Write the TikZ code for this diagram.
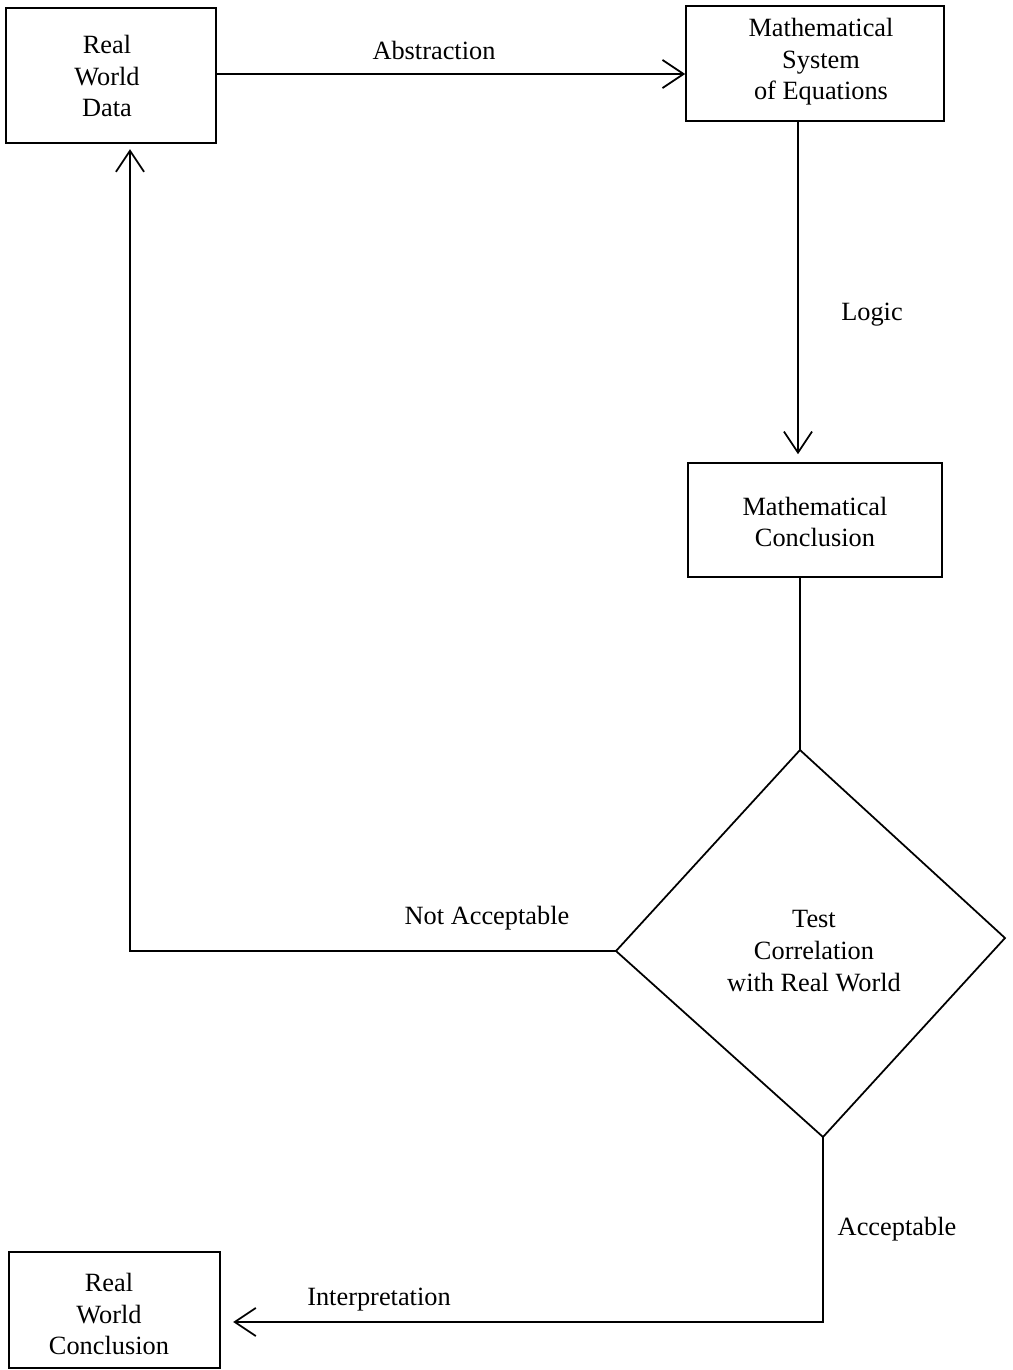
\documentclass[tikz,border=0pt]{standalone}
\usepackage{fontspec}
\setmainfont{Liberation Serif}
\usetikzlibrary{arrows.meta}
\begin{document}
\begin{tikzpicture}[x=0.02cm,y=-0.02cm,
  every node/.style={font=\fontsize{15}{18}\selectfont, align=center, inner sep=0pt},
  box/.style={draw, line width=1pt, inner sep=0pt},
  conn/.style={line width=1pt},
  arr/.style={conn, -{Straight Barb[length=12pt,width=16pt,line width=1pt]}},
  lbl/.style={}]
\useasboundingbox (0,0) rectangle (1012,1370);
% boxes
\node[box, minimum width=4.2cm, minimum height=2.7cm] (rwd) at (111,75.5) {};
\node at (107,76) {Real\\World\\Data};
\node[box, minimum width=5.16cm, minimum height=2.3cm] (mse) at (815,63.5) {};
\node at (821,62) {Mathematical\\System\\of Equations};
\node[box, minimum width=5.08cm, minimum height=2.28cm] (mc) at (815,520) {};
\node at (815,522) {Mathematical\\Conclusion};
\node[box, minimum width=4.22cm, minimum height=2.32cm] (rwc) at (114.5,1310) {};
\node at (109,1314) {Real\\World\\Conclusion};
% diamond
\coordinate (dtop) at (800,750);
\coordinate (dleft) at (616,951);
\coordinate (dright) at (1005,938);
\coordinate (dbot) at (823,1137);
\draw[conn, line join=miter] (dtop) -- (dright) -- (dbot) -- (dleft) -- cycle;
\node (dtext) at (814,951) {Test\\Correlation\\with Real World};
% helper coordinates
\coordinate (lx) at (798,0);
\coordinate (na) at (130,951);
\coordinate (ac) at (823,1322);
% connectors
\draw[arr] (rwd.east |- 0,74) -- (mse.west |- 0,74);
\draw[arr, shorten >=4.5pt] (mse.south -| lx) -- (mc.north -| lx);
\draw[conn] (mc.south -| dtop) -- (dtop);
\draw[arr, shorten >=3pt] (dleft) -- (na) -- (na |- rwd.south);
\draw[arr, shorten >=7pt] (dbot) -- (ac) -- (ac -| rwc.east);
% labels
\node[lbl] (labs) at (434,50) {Abstraction};
\node[lbl] (llog) at (872,315) {Logic};
\node[lbl] (lna) at (487,918) {Not Acceptable};
\node[lbl] (lac) at (897,1229) {Acceptable};
\node[lbl] (lint) at (379,1300) {Interpretation};
\end{tikzpicture}
\end{document}
